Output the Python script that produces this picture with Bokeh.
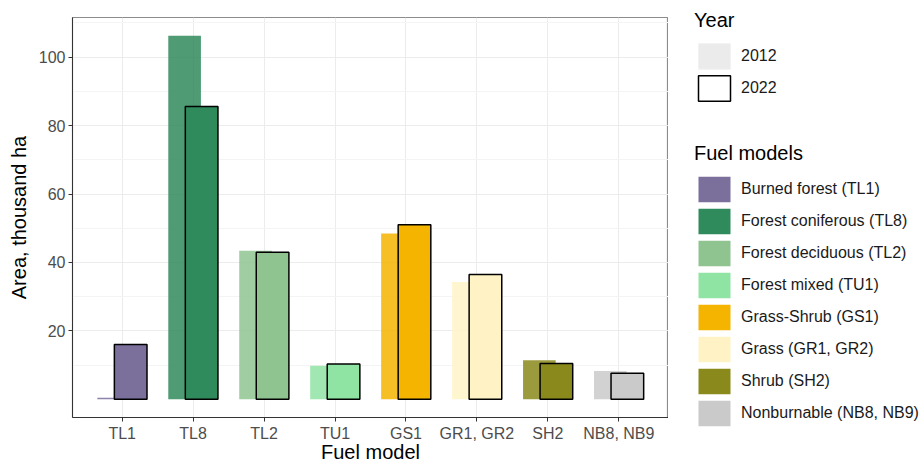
from bokeh.plotting import figure
from bokeh.layouts import row, column
from bokeh.models import (FactorRange, Range1d, FixedTicker, Legend, LegendItem,
                          ColumnDataSource)
from bokeh.transform import dodge
from bokeh.embed import file_html
from bokeh.resources import INLINE

# ---- data ----
categories = ["TL1", "TL8", "TL2", "TU1", "GS1", "GR1, GR2", "SH2", "NB8, NB9"]
fuel_labels = ["Burned forest (TL1)", "Forest coniferous (TL8)", "Forest deciduous (TL2)",
               "Forest mixed (TU1)", "Grass-Shrub (GS1)", "Grass (GR1, GR2)",
               "Shrub (SH2)", "Nonburnable (NB8, NB9)"]
fuel_colors = ["#7b6f9c", "#2f8a5c", "#8fc491", "#8fe3a3", "#f4b400", "#fff3c6",
               "#8a8a1c", "#cacaca"]
area_2012 = [0.5, 106.3, 43.4, 9.8, 48.5, 34.3, 11.4, 8.3]
area_2022 = [16.0, 85.6, 43.0, 10.3, 51.0, 36.5, 10.5, 7.6]
y_ticks = [20, 40, 60, 80, 100]
years = ["2012", "2022"]

FONT = "Liberation Sans"

src = ColumnDataSource(dict(cat=categories, a12=area_2012, a22=area_2022, color=fuel_colors))

p = figure(
    x_range=FactorRange(factors=categories, range_padding=0.2, range_padding_units="absolute"),
    y_range=Range1d(-5.3, 111.6),
    width=668, height=465,
    min_border_left=72, min_border_right=0, min_border_top=17, min_border_bottom=10,
    output_backend="svg", toolbar_location=None,
    background_fill_color="white", border_fill_color="white",
)

# bars
p.vbar(x=dodge("cat", -0.12, range=p.x_range), top="a12", width=0.46, source=src,
       fill_color="color", fill_alpha=0.85, line_color=None)
p.vbar(x=dodge("cat", 0.12, range=p.x_range), top="a22", width=0.46, source=src,
       fill_color="color", line_color="black", line_width=1.5)

# axes
p.yaxis.ticker = FixedTicker(ticks=y_ticks, minor_ticks=[10, 30, 50, 70, 90, 110])
p.xaxis.axis_label = "Fuel model"
p.yaxis.axis_label = "Area, thousand ha"
for ax in (p.xaxis[0], p.yaxis[0]):
    ax.axis_label_text_font = FONT
    ax.axis_label_text_font_size = "20px"
    ax.axis_label_text_font_style = "normal"
    ax.axis_label_text_color = "black"
    ax.major_label_text_font = FONT
    ax.major_label_text_font_size = "16px"
    ax.major_label_text_color = "#4d4d4d"
    ax.axis_line_color = "#333333"
    ax.major_tick_line_color = "#333333"
    ax.major_tick_out = 4
    ax.major_tick_in = 0
    ax.minor_tick_line_color = None
    ax.major_label_standoff = 3
p.xaxis.axis_label_standoff = -4
p.yaxis.axis_label_standoff = 6

p.xgrid.grid_line_color = "#ececec"
p.ygrid.grid_line_color = "#ececec"
p.ygrid.minor_grid_line_color = "#f4f4f4"
p.outline_line_color = "#8c8c8c"
p.outline_line_width = 1.2

# ---- legend panel (proxy renderers are hidden; legend keys still drawn) ----
lg = figure(width=254, height=465, x_range=FactorRange(factors=categories),
            y_range=Range1d(0, 1), x_axis_type=None, y_axis_type=None,
            min_border=0, min_border_left=0, min_border_right=0,
            min_border_top=0, min_border_bottom=0,
            output_backend="svg", toolbar_location=None, outline_line_color=None)
r_y12 = lg.vbar(x="cat", top="a12", width=0.4, source=src, fill_color="#ebebeb",
                line_color="#f2f2f2", visible=False)
r_y22 = lg.vbar(x="cat", top="a22", width=0.4, source=src, fill_color="white",
                line_color="black", line_width=1.5, visible=False)
r_fuel = lg.vbar(x="cat", top="a22", width=0.4, source=src, fill_color="color",
                 line_color=None, visible=False)

common = dict(glyph_width=40, glyph_height=32, spacing=0, padding=0, margin=0,
              label_standoff=7, label_text_font=FONT, label_text_font_size="16px",
              label_text_color="#1a1a1a", title_text_font=FONT, title_text_font_size="20px",
              title_text_font_style="normal", title_text_color="black", title_standoff=8,
              border_line_color=None, background_fill_alpha=0)

FB = 465  # legend panel frame bottom
leg_year = Legend(items=[LegendItem(label=years[0], renderers=[r_y12], index=0),
                         LegendItem(label=years[1], renderers=[r_y22], index=0)],
                  title="Year", location=(26, FB - 104), **common)
leg_fuel = Legend(items=[LegendItem(label=l, renderers=[r_fuel], index=i)
                         for i, l in enumerate(fuel_labels)],
                  title="Fuel models", location=(26, FB - 429), **common)
lg.add_layout(leg_year, "center")
lg.add_layout(leg_fuel, "center")

layout = row(p, column(lg))
open("out.html", "w").write(file_html(layout, INLINE))
